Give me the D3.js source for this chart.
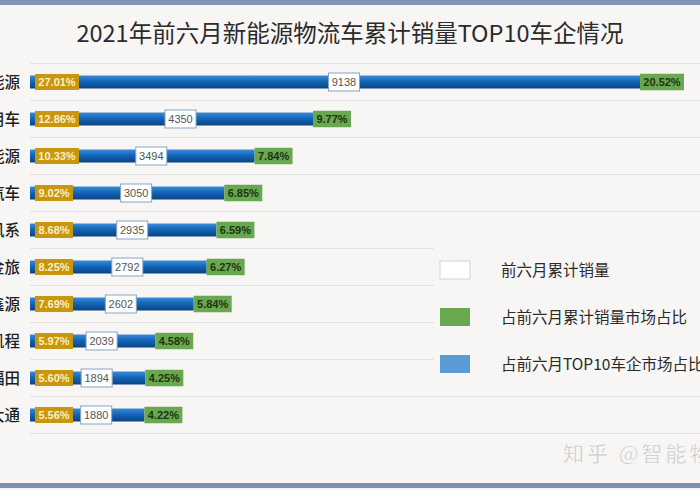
<!DOCTYPE html>
<html><head><meta charset="utf-8">
<script src="https://cdn.jsdelivr.net/npm/d3@7/dist/d3.min.js"></script>
<style>
html,body{margin:0;padding:0;background:#f7f6f4;}
svg{display:block;}
</style></head>
<body>
<script>
const title = "2021年前六月新能源物流车累计销量TOP10车企情况";
const categories = ["五菱新能源","远程商用车","瑞驰新能源","奇瑞汽车","东风系","厦门金旅","华晨鑫源","长安凯程","北汽福田","上汽大通"];
const sales = [9138,4350,3494,3050,2935,2792,2602,2039,1894,1880];
const top10Share = [27.01,12.86,10.33,9.02,8.68,8.25,7.69,5.97,5.60,5.56];
const marketShare = [20.52,9.77,7.84,6.85,6.59,6.27,5.84,4.58,4.25,4.22];
const legendLabels = ["前六月累计销量","占前六月累计销量市场占比","占前六月TOP10车企市场占比"];
const legendColors = ["#ffffff","#6aa84f","#5b9bd5"];
const watermark = "知乎 @智能物流";

const W = 700, H = 490;
const svg = d3.select("body").append("svg").attr("width", W).attr("height", H);
const defs = svg.append("defs");
const grad = defs.append("linearGradient").attr("id","barGrad").attr("x1",0).attr("y1",0).attr("x2",0).attr("y2",1);
grad.append("stop").attr("offset","0%").attr("stop-color","#3a8bd8");
grad.append("stop").attr("offset","45%").attr("stop-color","#1366b8");
grad.append("stop").attr("offset","100%").attr("stop-color","#0a4383");

svg.append("rect").attr("width",W).attr("height",H).attr("fill","#f7f6f4");
svg.append("rect").attr("x",0).attr("y",0).attr("width",W).attr("height",5).attr("fill","#8394b7");
svg.append("rect").attr("x",0).attr("y",483).attr("width",W).attr("height",5).attr("fill","#7f90b3");

svg.append("text").attr("x",350).attr("y",42).attr("text-anchor","middle")
  .attr("font-family","'Noto Sans CJK SC','Noto Sans',sans-serif").attr("font-size",23.5)
  .attr("fill","#2b2b2b").text(title);

const x = d3.scaleLinear().domain([0, d3.max(sales)]).range([16, 640]);
const y = d3.scaleBand().domain(categories).range([63.5, 433.5]).padding(0);
const x0 = 30;

// gridlines
const gridYs = categories.map(c => y(c)).concat([y(categories[categories.length-1]) + y.bandwidth()]);
svg.append("g").selectAll("line").data(gridYs).join("line")
  .attr("x1",x0).attr("x2",W).attr("y1",d=>d).attr("y2",d=>d)
  .attr("stroke","#e2e1df").attr("stroke-width",1);

// legend background (covers gridlines)
svg.append("rect").attr("x",434).attr("y",245).attr("width",W-434).attr("height",135).attr("fill","#f7f6f4");

const font = "'Liberation Sans',Arial,sans-serif";
const rows = svg.append("g").selectAll("g").data(categories).join("g")
  .attr("transform", d => `translate(0,${y(d) + y.bandwidth()/2})`);

rows.append("text").attr("x",20).attr("y",0).attr("dy","0.36em").attr("text-anchor","end")
  .attr("font-family","'Noto Sans CJK SC',sans-serif").attr("font-size",15.5).attr("font-weight",500)
  .attr("fill","#1e1e1e").text(d=>d);

rows.append("rect").attr("x",x0).attr("y",-6.5).attr("height",13)
  .attr("width",(d,i)=> x(sales[i]) - x0).attr("fill","url(#barGrad)");

function labelBox(g, txt, cx0, anchor, fill, stroke, color, weight, h){
  const t = g.append("text").attr("font-family",font).attr("font-size",11).attr("font-weight",weight)
    .attr("fill",color).attr("dy","0.36em").text(txt);
  const tw = t.node().getComputedTextLength();
  const bw = Math.round(tw + 7);
  const left = anchor === "start" ? cx0 : cx0 - bw/2;
  g.insert("rect","text:last-of-type").attr("x",left).attr("y",-h/2).attr("width",bw).attr("height",h)
    .attr("fill",fill).attr("stroke",stroke).attr("stroke-width",stroke==="none"?0:1);
  t.attr("x", left + bw/2).attr("text-anchor","middle");
}

rows.each(function(d,i){
  const g = d3.select(this);
  const gg = g.append("g");
  labelBox(gg, top10Share[i].toFixed(2)+"%", 35, "start", "#c8960f", "none", "#fcefc4", "bold", 16);
  const wg = g.append("g");
  labelBox(wg, String(sales[i]), (48 + x(sales[i]))/2, "middle", "#ffffff", "#8aa3bf", "#555", "normal", 18);
  const gr = g.append("g");
  labelBox(gr, marketShare[i].toFixed(2)+"%", x(sales[i]), "start", "#6aa84f", "none", "#1c3510", "bold", 16.5);
});

// legend
const leg = svg.append("g").selectAll("g").data(legendLabels).join("g")
  .attr("transform",(d,i)=>`translate(440,${270 + i*47})`);
leg.append("rect").attr("x",0).attr("y",-9).attr("width",30).attr("height",18)
  .attr("fill",(d,i)=>legendColors[i]).attr("stroke",(d,i)=> i===0 ? "#c9d3de" : "none");
leg.append("text").attr("x",61).attr("y",0).attr("dy","0.36em")
  .attr("font-family","'Noto Sans CJK SC',sans-serif").attr("font-size",15.5)
  .attr("fill","#2b2b2b").text(d=>d);

// watermark
svg.append("text").attr("x",563).attr("y",461).attr("font-family","'Noto Sans CJK SC',sans-serif")
  .attr("font-size",21).attr("letter-spacing",3).attr("fill","#c4c4c4").attr("stroke","#ffffff").attr("stroke-width",0.4)
  .text(watermark);
</script>
</body></html>
